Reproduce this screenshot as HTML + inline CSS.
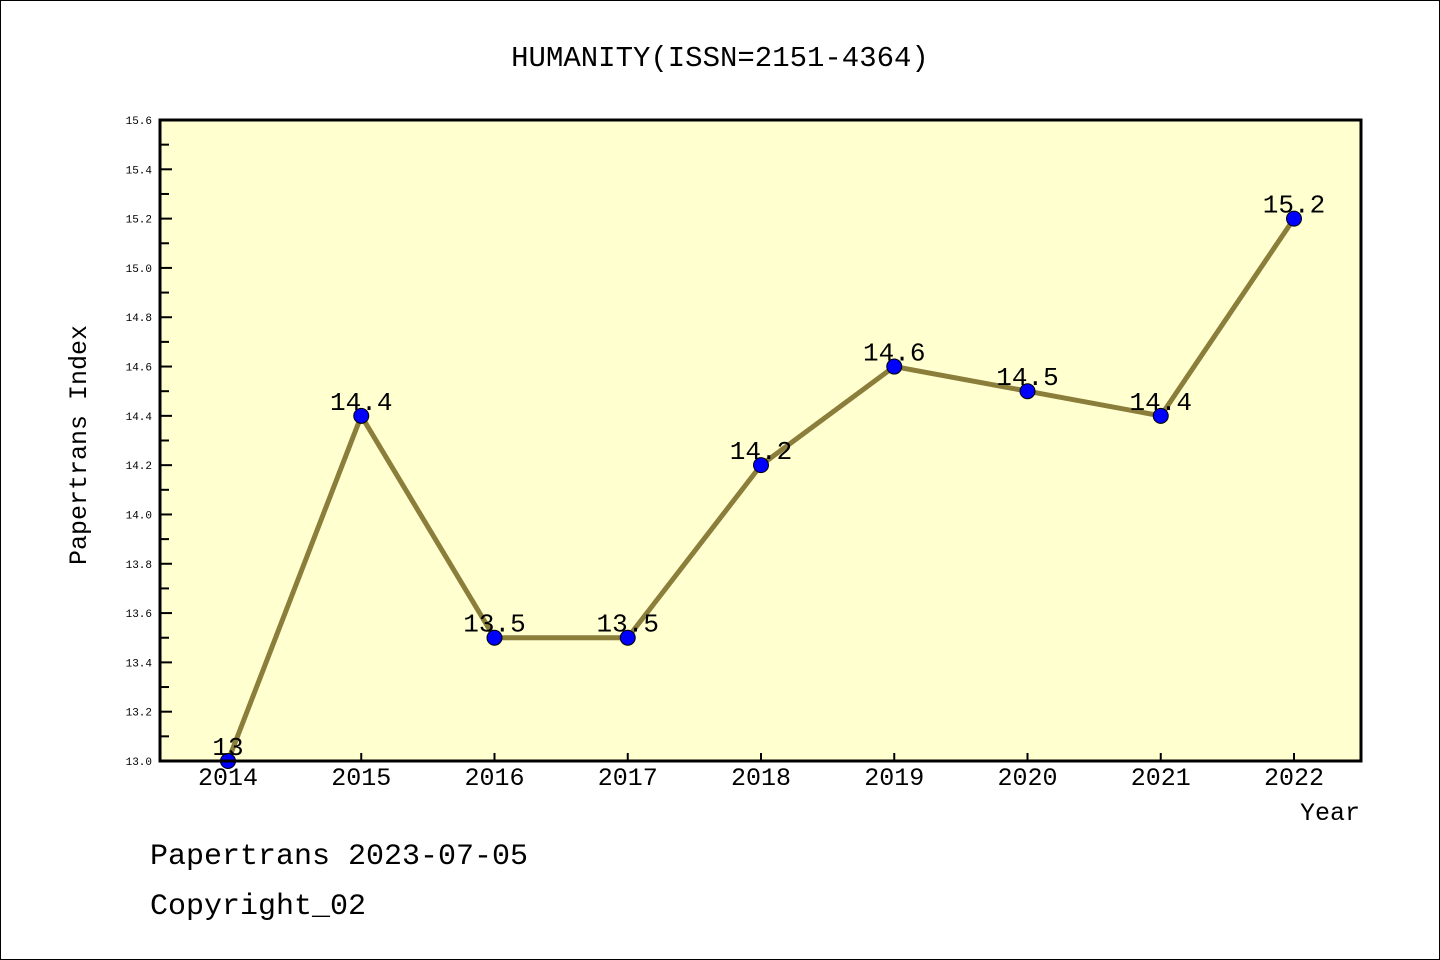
<!DOCTYPE html>
<html><head><meta charset="utf-8"><style>
body{margin:0;background:#fff}
svg{display:block}
text{font-family:"Liberation Mono","WenQuanYi Zen Hei",monospace;fill:#000}
</style></head><body>
<svg width="1440" height="960">
<rect x="0.5" y="0.5" width="1439" height="959" fill="#fff" stroke="#000"/>
<text x="720" y="66" font-size="29" text-anchor="middle">HUMANITY(ISSN=2151-4364)</text>
<rect x="160" y="120" width="1201" height="641" fill="#ffffd0"/>
<g id="ticks"></g>
<g id="series"></g>
<rect x="160" y="120" width="1201" height="641" fill="none" stroke="#000" stroke-width="3"/>
<text x="86" y="445" font-size="25" text-anchor="middle" transform="rotate(-90 86 445)">Papertrans Index</text>
<text x="1360" y="820" font-size="25" text-anchor="end">Year</text>
<text x="150" y="864" font-size="30">Papertrans 2023-07-05</text>
<text x="150" y="914" font-size="30">Copyright_02</text>
</svg>
<script>
const years=["2014","2015","2016","2017","2018","2019","2020","2021","2022"];
const values=[13,14.4,13.5,13.5,14.2,14.6,14.5,14.4,15.2];
const valueLabels=["13","14.4","13.5","13.5","14.2","14.6","14.5","14.4","15.2"];
const yTicks=[13.0,13.2,13.4,13.6,13.8,14.0,14.2,14.4,14.6,14.8,15.0,15.2,15.4,15.6];
const NS="http://www.w3.org/2000/svg";
const yMin=13.0,yMax=15.6;
function sy(v){return 761-(v-yMin)/(yMax-yMin)*641;}
function sx(i){return 228+i*(1294-228)/(years.length-1);}
function mk(t,a,p){const e=document.createElementNS(NS,t);for(const k in a)e.setAttribute(k,a[k]);p.appendChild(e);return e;}
const tg=document.getElementById('ticks'),sg=document.getElementById('series');
yTicks.forEach((v,i)=>{
 const y=sy(v);
 const l=mk('line',{x1:160,x2:172,y1:y,y2:y,stroke:'#000','stroke-width':2},tg);
 
 
 const t=mk('text',{x:152,y:y+4,'font-size':11,'text-anchor':'end','font-family':'DejaVu Sans, sans-serif'},tg);
 t.textContent=v.toFixed(1);
 
 
 if(i<yTicks.length-1){const ym=sy(v+0.1);
  const m=mk('line',{x1:160,x2:169,y1:ym,y2:ym,stroke:'#000','stroke-width':2},tg);
  
  }
});
years.forEach((yr,i)=>{
 const x=sx(i);
 const l=mk('line',{x1:x,x2:x,y1:761,y2:753,stroke:'#000','stroke-width':2},tg);
 
 
 const t=mk('text',{x:x,y:785,'font-size':25,'text-anchor':'middle'},tg);
 t.textContent=yr;
 
 
});
const pl=mk('polyline',{points:values.map((v,i)=>sx(i)+','+sy(v)).join(' '),fill:'none',stroke:'#8b7d3a','stroke-width':5},sg);


values.forEach((v,i)=>{
 const c=mk('circle',{cx:sx(i),cy:sy(v),r:7.5,fill:'#0000ff',stroke:'#000','stroke-width':1},sg);
 
 
 const t=mk('text',{x:sx(i),y:sy(v)-6,'font-size':26,'text-anchor':'middle'},sg);
 t.textContent=valueLabels[i];
 
 
});
</script>
</body></html>
